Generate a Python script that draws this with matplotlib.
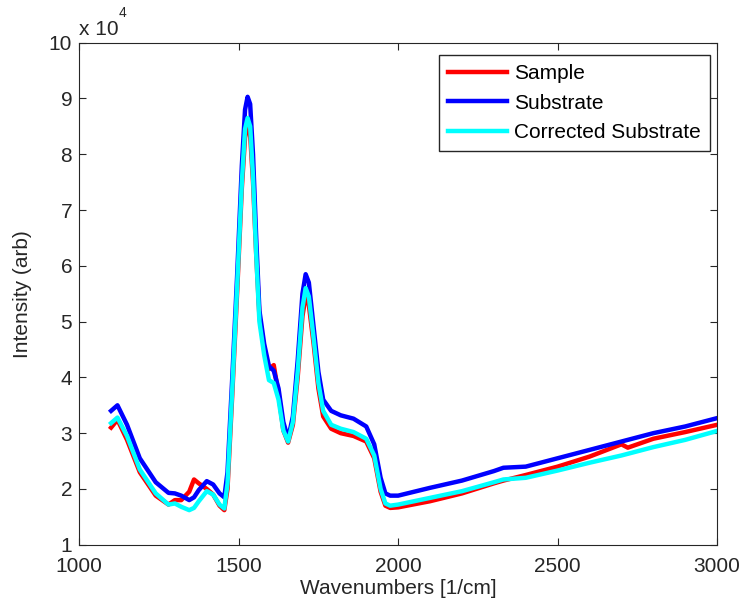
import matplotlib
matplotlib.use("Agg")
import matplotlib.pyplot as plt
from matplotlib.ticker import FuncFormatter
import numpy as np

plt.rcParams['font.family'] = ['Liberation Sans', 'DejaVu Sans']
fs = 15

# wavenumbers [1/cm]
wn = [1100, 1120, 1150, 1190, 1240, 1280, 1300, 1320, 1345, 1360, 1375, 1400, 1420,
      1440, 1455, 1465, 1480, 1495, 1510, 1520, 1528, 1536, 1545, 1555, 1565, 1580,
      1595, 1610, 1625, 1640, 1655, 1670, 1685, 1700, 1710, 1720, 1735, 1750, 1765,
      1790, 1820, 1860, 1900, 1925, 1945, 1960, 1975, 2000, 2100, 2200, 2300, 2330,
      2400, 2500, 2600, 2700, 2720, 2800, 2900, 3000]

# intensities, x 10^4
sample = [3.10, 3.24, 2.88, 2.30, 1.88, 1.72, 1.80, 1.80, 1.95, 2.17, 2.10, 2.00, 1.90,
          1.70, 1.62, 2.00, 3.70, 5.50, 7.40, 8.30, 8.50, 8.35, 7.50, 6.20, 5.10, 4.50,
          4.15, 4.22, 3.70, 3.05, 2.83, 3.15, 4.00, 5.10, 5.45, 5.30, 4.60, 3.80, 3.30,
          3.08, 3.00, 2.95, 2.85, 2.55, 1.95, 1.70, 1.66, 1.67, 1.78, 1.92, 2.10, 2.15,
          2.25, 2.40, 2.58, 2.80, 2.74, 2.90, 3.02, 3.15]
substrate = [3.40, 3.50, 3.15, 2.55, 2.12, 1.93, 1.92, 1.88, 1.80, 1.85, 1.98, 2.14, 2.08,
             1.92, 1.85, 2.30, 4.00, 5.80, 7.80, 8.80, 9.03, 8.90, 8.00, 6.50, 5.20, 4.60,
             4.20, 4.12, 3.80, 3.20, 2.90, 3.30, 4.30, 5.50, 5.85, 5.70, 4.90, 4.10, 3.60,
             3.40, 3.32, 3.26, 3.12, 2.80, 2.20, 1.92, 1.88, 1.88, 2.02, 2.15, 2.32, 2.38,
             2.40, 2.55, 2.70, 2.85, 2.88, 3.00, 3.12, 3.27]
corrected = [3.18, 3.28, 2.95, 2.35, 1.92, 1.72, 1.74, 1.68, 1.62, 1.66, 1.78, 1.96, 1.90,
             1.72, 1.65, 2.10, 3.80, 5.60, 7.50, 8.45, 8.65, 8.50, 7.60, 6.20, 5.00, 4.40,
             3.95, 3.90, 3.60, 3.05, 2.85, 3.20, 4.10, 5.25, 5.60, 5.45, 4.70, 3.90, 3.40,
             3.15, 3.08, 3.02, 2.90, 2.60, 2.00, 1.74, 1.70, 1.72, 1.84, 1.96, 2.12, 2.17,
             2.20, 2.33, 2.47, 2.60, 2.63, 2.75, 2.88, 3.04]

scale = 1e4
fig = plt.figure(figsize=(7.47, 6.10), dpi=100)
ax = fig.add_axes([0.106, 0.107, 0.854, 0.823])

ax.plot(wn, np.array(sample) * scale, color='#ff0000', lw=3.2, label='Sample')
ax.plot(wn, np.array(substrate) * scale, color='#0000ff', lw=3.2, label='Substrate')
ax.plot(wn, np.array(corrected) * scale, color='#00ffff', lw=3.2, label='Corrected Substrate')

ax.set_xlim(1000, 3000)
ax.set_ylim(1e4, 10e4)
ax.set_xticks([1000, 1500, 2000, 2500, 3000])
ax.set_yticks(np.arange(1, 11) * scale)
ax.yaxis.set_major_formatter(FuncFormatter(lambda v, p: '%g' % (v / scale)))
ax.tick_params(direction='in', top=True, right=True, length=5, color='#262626',
               labelcolor='#262626', labelsize=fs)
ax.tick_params(axis='x', pad=9)
ax.tick_params(axis='y', pad=5)
for s in ax.spines.values():
    s.set_color('#262626')

ax.set_xlabel('Wavenumbers [1/cm]', color='#262626', fontsize=fs, labelpad=2)
ax.set_ylabel('Intensity (arb)', color='#262626', fontsize=fs, labelpad=12)

ax.text(0.0, 1.008, 'x 10', transform=ax.transAxes, fontsize=fs, color='#262626',
        ha='left', va='bottom')
ax.text(0.062, 1.045, '4', transform=ax.transAxes, fontsize=10, color='#262626',
        ha='left', va='bottom')

leg = ax.legend(loc='upper right', bbox_to_anchor=(0.989, 0.976), borderaxespad=0,
                fancybox=False, framealpha=1, edgecolor='#262626', fontsize=fs,
                handlelength=2.8, handletextpad=0.35, borderpad=0.45, labelspacing=0.5)
leg.get_frame().set_linewidth(1)

fig.savefig('out.png', dpi=100)
